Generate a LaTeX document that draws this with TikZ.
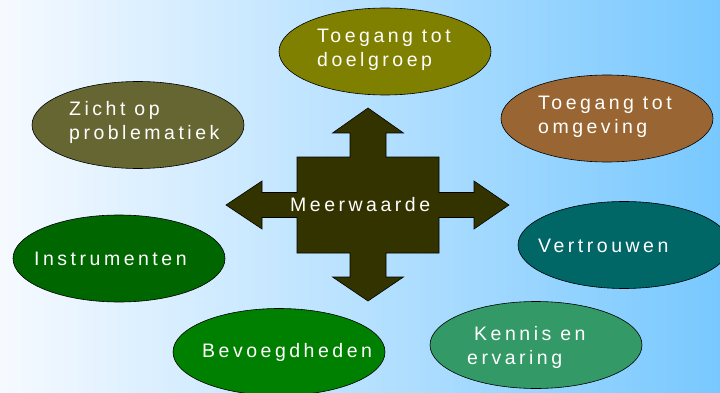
\documentclass[tikz,border=0pt]{standalone}
\usepackage{fontspec}
\newfontfamily\wide[LetterSpace=18]{Liberation Sans}
\usepackage{tikz}
\usetikzlibrary{shapes.geometric}
\definecolor{arrowcol}{HTML}{333300}
\definecolor{doelcol}{HTML}{808000}
\definecolor{zichtcol}{HTML}{666633}
\definecolor{omgcol}{HTML}{996633}
\definecolor{instrcol}{HTML}{006600}
\definecolor{vertrcol}{HTML}{006666}
\definecolor{bevcol}{HTML}{008000}
\definecolor{kenniscol}{HTML}{339966}
\definecolor{bgleft}{HTML}{F6FAFF}
\definecolor{bgright}{HTML}{78C8FF}
\tikzset{
  bubble/.style={ellipse,draw=black,line width=0.6pt,minimum width=212pt,minimum height=87pt,inner sep=0pt},
  lbl/.style={anchor=west,text=white,align=left,inner sep=0pt,font=\wide\fontsize{19.5}{24}\selectfont}
}

\begin{document}
\begin{tikzpicture}[x=1pt,y=-1pt]
%background
\useasboundingbox (0,0) rectangle (720,393);
\shade[left color=bgleft,right color=bgright] (0,0) rectangle (720,393);
%central arrow
\draw [line width=0.6pt,fill=arrowcol] (368,108) -- (403.5,133) -- (386,133) -- (386,157) -- (439,157)
  -- (439,192.5) -- (474,192.5) -- (474,181) -- (509,205) -- (474,229) -- (474,217.5) -- (439,217.5)
  -- (439,253) -- (386,253) -- (386,277) -- (403.5,277) -- (368,301) -- (332.5,277) -- (350,277)
  -- (350,253) -- (297,253) -- (297,217.5) -- (262,217.5) -- (262,229) -- (226,205) -- (262,181)
  -- (262,192.5) -- (297,192.5) -- (297,157) -- (350,157) -- (350,133) -- (332.5,133) -- cycle;
\node [lbl] (mw) at (290,205) {Meerwaarde};
%bubbles
\node [bubble,fill=doelcol] (doel) at (385,51.5) {};
\node [lbl] (tdoel) at (317,50) {Toegang tot\\doelgroep};
\node [bubble,fill=zichtcol] (zicht) at (138,125) {};
\node [lbl] (tzicht) at (69,122) {Zicht op\\problematiek};
\node [bubble,fill=omgcol] (omg) at (607,118.5) {};
\node [lbl] (tomg) at (538,117) {Toegang tot\\omgeving};
\node [bubble,fill=instrcol] (instr) at (119,258.5) {};
\node [lbl] (tinstr) at (34,259) {Instrumenten};
\node [bubble,fill=vertrcol] (vertr) at (624,245) {};
\node [lbl] (tvertr) at (538,246) {Vertrouwen};
\node [bubble,fill=bevcol] (bev) at (279,352) {};
\node [lbl] (tbev) at (202,352) {Bevoegdheden};
\node [bubble,fill=kenniscol] (kennis) at (536,345) {};
\node [lbl] (tkennis) at (467,347) {\hspace*{7pt}Kennis en\\ervaring};
\end{tikzpicture}
\end{document}
